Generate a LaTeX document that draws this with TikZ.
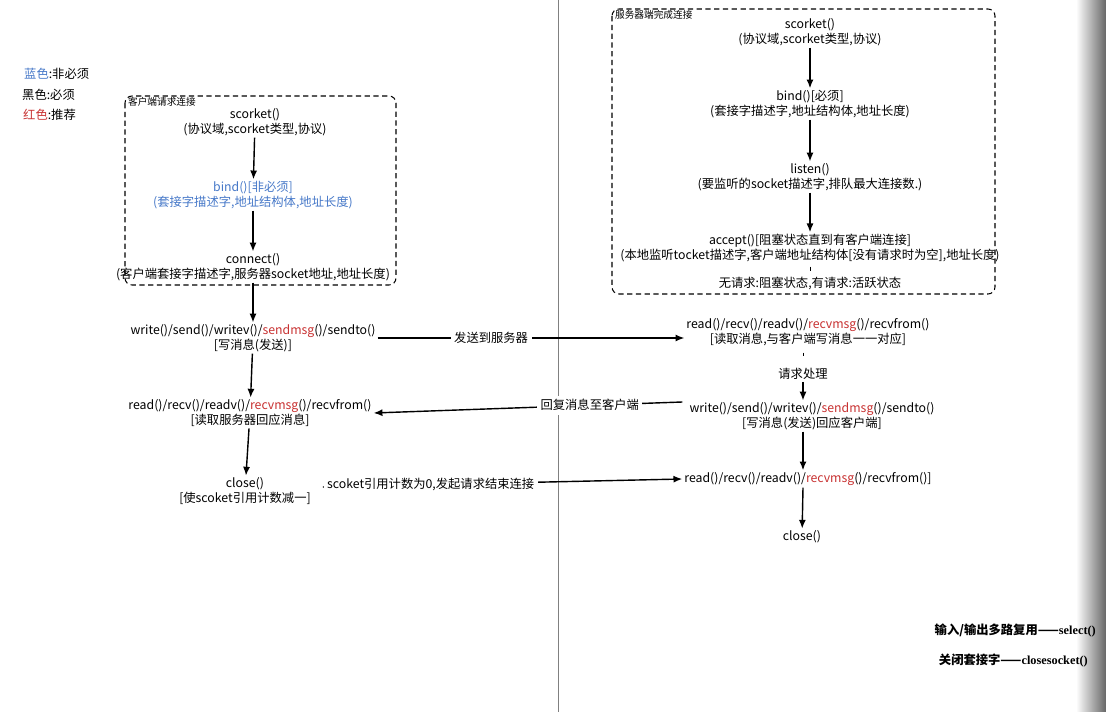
\documentclass[tikz,border=0pt]{standalone}
\usepackage{fontspec}
\setmainfont{Noto Sans CJK SC}
\newfontfamily\notefont{Liberation Serif}
\usetikzlibrary{arrows.meta}
\definecolor{optblue}{RGB}{70,120,200}
\definecolor{recred}{RGB}{200,50,50}
\tikzset{
  step text/.style={align=center, font=\fontsize{7}{8.2}\selectfont, inner sep=1pt},
  box title/.style={anchor=north west, font=\fontsize{5.5}{6}\selectfont, inner sep=1pt},
  flow/.style={-{Latex[length=5pt,width=4pt]}, thick},
  lbl/.style={fill=white, font=\fontsize{7}{8.2}\selectfont, inner sep=2pt},
  groupbox/.style={draw=black, semithick, dash pattern=on 3pt off 2pt, rounded corners=4pt}
}
\begin{document}
\begin{tikzpicture}[x=0.02cm,y=-0.02cm]
  \useasboundingbox (0,0) rectangle (1106,712);
  % right edge shadow
  \shade[left color=white, right color=black!60] (1076,0) rectangle (1106,712);
  % divider
  \draw[gray] (558,0) -- (558,712);

  % legend
  \node[anchor=west, font=\fontsize{7}{8.2}\selectfont] (l1) at (18,74) {\textcolor{optblue}{蓝色}:非必须};
  \node[anchor=west, font=\fontsize{7}{8.2}\selectfont] (l2) at (16,95) {黑色:必须};
  \node[anchor=west, font=\fontsize{7}{8.2}\selectfont] (l3) at (17,115) {\textcolor{recred}{红色}:推荐};

  % client side
  \draw[groupbox] (125,96) rectangle (396,285);
  \node[box title] (ctitle) at (126,95) {客户端请求连接};
  \node[step text] (csock) at (255,122) {scorket()\\(协议域,scorket类型,协议)};
  \node[step text, text=optblue] (cbind) at (253,195) {bind()[非必须]\\(套接字描述字,地址结构体,地址长度)};
  \node[step text] (cconn) at (253,267) {connect()\\(客户端套接字描述字,服务器socket地址,地址长度)};
  \node[step text] (cwrite) at (253,338) {write()/send()/writev()/\textcolor{recred}{sendmsg}()/sendto()\\{}[写消息(发送)]};
  \node[step text] (cread) at (250,413) {read()/recv()/readv()/\textcolor{recred}{recvmsg}()/recvfrom()\\{}[读取服务器回应消息]};
  \node[step text] (cclose) at (245,491) {close()\\{}[使scoket引用计数减一]};

  \draw[flow] (csock) -- (cbind);
  \draw[flow] (cbind) -- (cconn);
  \draw[flow] (cconn) -- (cwrite);
  \draw[flow] (cwrite) -- (cread);
  \draw[flow] (cread) -- (cclose);

  % server side
  \draw[groupbox] (612,9) rectangle (995,294);
  \node[box title] (stitle) at (613,8) {服务器端完成连接};
  \node[step text] (ssock) at (810,32) {scorket()\\(协议域,scorket类型,协议)};
  \node[step text] (sbind) at (810,104) {bind()[必须]\\(套接字描述字,地址结构体,地址长度)};
  \node[step text] (slisten) at (810,177) {listen()\\(要监听的socket描述字,排队最大连接数.)};
  \node[step text] (saccept) at (810,248) {accept()[阻塞状态直到有客户端连接]\\(本地监听tocket描述字,客户端地址结构体[没有请求时为空],地址长度)};
  \node[step text] (sstate) at (810,283) {无请求:阻塞状态,有请求:活跃状态};
  \node[step text] (sread) at (808,332) {read()/recv()/readv()/\textcolor{recred}{recvmsg}()/recvfrom()\\{}[读取消息,与客户端写消息一一对应]};
  \node[step text] (sproc) at (803,374) {请求处理};
  \node[step text] (swrite) at (812,416) {write()/send()/writev()/\textcolor{recred}{sendmsg}()/sendto()\\{}[写消息(发送)回应客户端]};
  \node[step text] (sread2) at (808,479) {read()/recv()/readv()/\textcolor{recred}{recvmsg}()/recvfrom()]};
  \node[step text] (sclose) at (802,537) {close()};

  \draw[flow] (ssock) -- (sbind);
  \draw[flow] (sbind) -- (slisten);
  \draw[flow] (slisten) -- (saccept);
  \draw (saccept.south) ++(0,3) -- ++(0,4);
  \draw (sread.south -| sproc.north) ++(0,5) -- ++(0,3);
  \draw[flow] (sproc) -- (swrite.north -| sproc);
  \draw[flow] (swrite.south -| sproc) -- (sread2.north -| sproc);
  \draw[flow] (sread2.south -| sproc) -- (sclose);

  % messages between sides
  \draw[flow] (cwrite.east) -- node[lbl, pos=0.37] {发送到服务器} (sread.west |- cwrite.east);
  \draw[flow] (swrite.west) ++(-5,-14) -- node[lbl, pos=0.3] {回复消息至客户端} (cread.east);
  \draw[flow] (cclose.east) ++(10,-4) -- node[lbl, pos=0.3] {scoket引用计数为0,发起请求结束连接} (sread2.west);

  % notes
  \node[anchor=east, font=\fontsize{7}{8.2}\selectfont\bfseries] (n1) at (1102,630) {输入/输出多路复用——{\notefont select()}};
  \node[anchor=east, font=\fontsize{7}{8.2}\selectfont\bfseries] (n2) at (1094,661) {关闭套接字——{\notefont closesocket()}};
\end{tikzpicture}
\end{document}
